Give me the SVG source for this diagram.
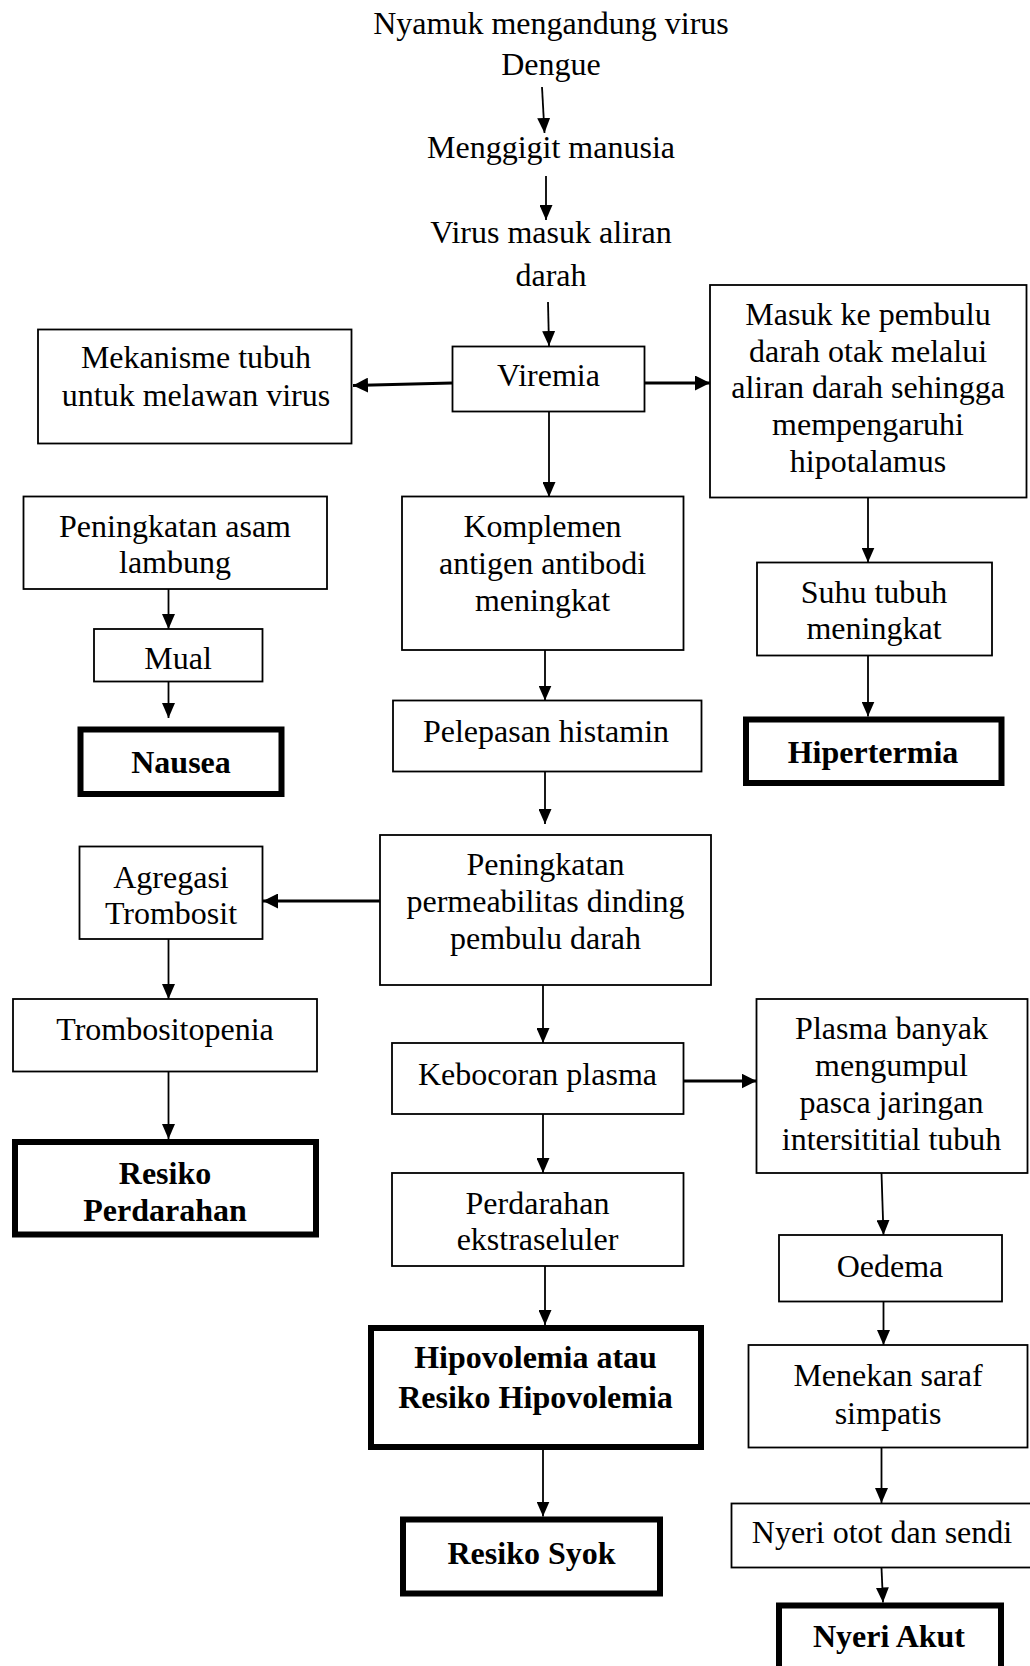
<svg xmlns="http://www.w3.org/2000/svg" width="1030" height="1666" viewBox="0 0 1030 1666">
<style>
text{font-family:"Liberation Serif","Times New Roman",serif;font-size:32px;fill:#000;text-anchor:middle}
.b{font-weight:bold}
.n{fill:#fff;stroke:#000;stroke-width:1.8}
.t{fill:#fff;stroke:#000;stroke-width:6}
.c{stroke:#000;stroke-width:1.8;fill:none;marker-end:url(#ah)}
.ck{stroke:#000;stroke-width:3;fill:none;marker-end:url(#ahk)}
</style>
<defs>
<marker id="ah" viewBox="0 0 15 13" refX="15" refY="6.5" markerWidth="15" markerHeight="13" markerUnits="userSpaceOnUse" orient="auto"><path d="M0,0 L15,6.5 L0,13 z" fill="#000"/></marker>
<marker id="ahk" viewBox="0 0 15 15" refX="15" refY="7.5" markerWidth="15" markerHeight="15" markerUnits="userSpaceOnUse" orient="auto"><path d="M0,0 L15,7.5 L0,15 z" fill="#000"/></marker>
</defs>
<rect width="1030" height="1666" fill="#fff"/>
<g id="connectors">
<path class="c" d="M542,87 L544.5,133"/>
<path class="c" d="M546,176 L546,220"/>
<path class="c" d="M548,302 L549,346"/>
<path class="ck" d="M452,383 L353,385.5"/>
<path class="ck" d="M645,383 L710,383"/>
<path class="c" d="M549,412 L549,497"/>
<path class="c" d="M868,498 L868,562.5"/>
<path class="c" d="M868,656 L868,716.5"/>
<path class="c" d="M168.5,589 L168.5,629"/>
<path class="c" d="M168.5,682 L168.5,718"/>
<path class="c" d="M545,650 L545,700.5"/>
<path class="c" d="M545,772 L545,824"/>
<path class="ck" d="M380,901 L263,901"/>
<path class="c" d="M168.5,939 L168.5,999"/>
<path class="c" d="M168.5,1072 L168.5,1139"/>
<path class="c" d="M543,985 L543,1043"/>
<path class="ck" d="M683.5,1081 L756.5,1081"/>
<path class="c" d="M543,1114 L543,1173"/>
<path class="c" d="M881.5,1173 L883.5,1235"/>
<path class="c" d="M545,1266 L545,1325"/>
<path class="c" d="M543,1450 L543,1516.5"/>
<path class="c" d="M883.5,1302 L883.5,1345"/>
<path class="c" d="M881.5,1448 L881.5,1503"/>
<path class="c" d="M881.5,1568 L883,1602.5"/>
</g>
<g id="n-nyamuk"><text x="551" y="34">Nyamuk mengandung virus</text><text x="551" y="75">Dengue</text></g>
<g id="n-menggigit"><text x="551" y="158">Menggigit manusia</text></g>
<g id="n-virus"><text x="551" y="243">Virus masuk aliran</text><text x="551" y="286">darah</text></g>
<g id="n-mekanisme"><rect class="n" x="38" y="329.5" width="313.5" height="114"/><text x="196" y="368">Mekanisme tubuh</text><text x="196" y="406">untuk melawan virus</text></g>
<g id="n-viremia"><rect class="n" x="452.5" y="346.5" width="192" height="65"/><text x="548.5" y="386">Viremia</text></g>
<g id="n-masuk"><rect class="n" x="710" y="285" width="316.5" height="212.5"/><text x="868" y="325">Masuk ke pembulu</text><text x="868" y="361.7">darah otak melalui</text><text x="868" y="398.3">aliran darah sehingga</text><text x="868" y="435">mempengaruhi</text><text x="868" y="471.7">hipotalamus</text></g>
<g id="n-asam"><rect class="n" x="23.5" y="496.5" width="303.5" height="92.5"/><text x="175" y="537">Peningkatan asam</text><text x="175" y="573">lambung</text></g>
<g id="n-mual"><rect class="n" x="94" y="629" width="168.5" height="52.5"/><text x="178" y="669">Mual</text></g>
<g id="n-nausea"><rect class="t" x="80.5" y="729.5" width="201" height="64.5"/><text class="b" x="181" y="772.5">Nausea</text></g>
<g id="n-komplemen"><rect class="n" x="402" y="496.5" width="281.5" height="153.5"/><text x="542.5" y="537">Komplemen</text><text x="542.5" y="574">antigen antibodi</text><text x="542.5" y="611">meningkat</text></g>
<g id="n-suhu"><rect class="n" x="757" y="562.5" width="235" height="93"/><text x="874" y="603">Suhu tubuh</text><text x="874" y="639">meningkat</text></g>
<g id="n-hipertermia"><rect class="t" x="746" y="719.5" width="255.5" height="63.5"/><text class="b" x="873" y="763">Hipertermia</text></g>
<g id="n-pelepasan"><rect class="n" x="393" y="700.5" width="308.5" height="71"/><text x="546" y="742">Pelepasan histamin</text></g>
<g id="n-permeabilitas"><rect class="n" x="380" y="835" width="331" height="150"/><text x="545.5" y="875">Peningkatan</text><text x="545.5" y="912">permeabilitas dinding</text><text x="545.5" y="949">pembulu darah</text></g>
<g id="n-agregasi"><rect class="n" x="79.5" y="846.5" width="183" height="92.5"/><text x="171" y="888">Agregasi</text><text x="171" y="924">Trombosit</text></g>
<g id="n-trombositopenia"><rect class="n" x="13" y="999" width="304" height="72.5"/><text x="165" y="1040">Trombositopenia</text></g>
<g id="n-resiko-perdarahan"><rect class="t" x="15" y="1142" width="301" height="92.5"/><text class="b" x="165" y="1184">Resiko</text><text class="b" x="165" y="1221">Perdarahan</text></g>
<g id="n-kebocoran"><rect class="n" x="392" y="1043" width="291.5" height="71"/><text x="537.5" y="1085">Kebocoran plasma</text></g>
<g id="n-plasma"><rect class="n" x="756.5" y="999" width="271" height="174"/><text x="891.5" y="1039">Plasma banyak</text><text x="891.5" y="1076">mengumpul</text><text x="891.5" y="1113">pasca jaringan</text><text x="891.5" y="1150">intersititial tubuh</text></g>
<g id="n-perdarahan"><rect class="n" x="392" y="1173" width="291.5" height="93"/><text x="537.5" y="1214">Perdarahan</text><text x="537.5" y="1250">ekstraseluler</text></g>
<g id="n-oedema"><rect class="n" x="779" y="1235" width="223" height="66.5"/><text x="890" y="1277">Oedema</text></g>
<g id="n-hipovolemia"><rect class="t" x="371" y="1328" width="330" height="119"/><text class="b" x="535.5" y="1368">Hipovolemia atau</text><text class="b" x="535.5" y="1408">Resiko Hipovolemia</text></g>
<g id="n-menekan"><rect class="n" x="748.5" y="1345" width="279" height="102.5"/><text x="888" y="1386">Menekan saraf</text><text x="888" y="1424">simpatis</text></g>
<g id="n-syok"><rect class="t" x="403" y="1519.5" width="257" height="74"/><text class="b" x="531.5" y="1564">Resiko Syok</text></g>
<g id="n-nyeri-otot"><rect class="n" x="731.5" y="1503.5" width="310" height="64"/><text x="882" y="1543">Nyeri otot dan sendi</text></g>
<g id="n-nyeri-akut"><rect class="t" x="779" y="1605.5" width="222" height="80"/><text class="b" x="889" y="1646.5">Nyeri Akut</text></g>
</svg>
